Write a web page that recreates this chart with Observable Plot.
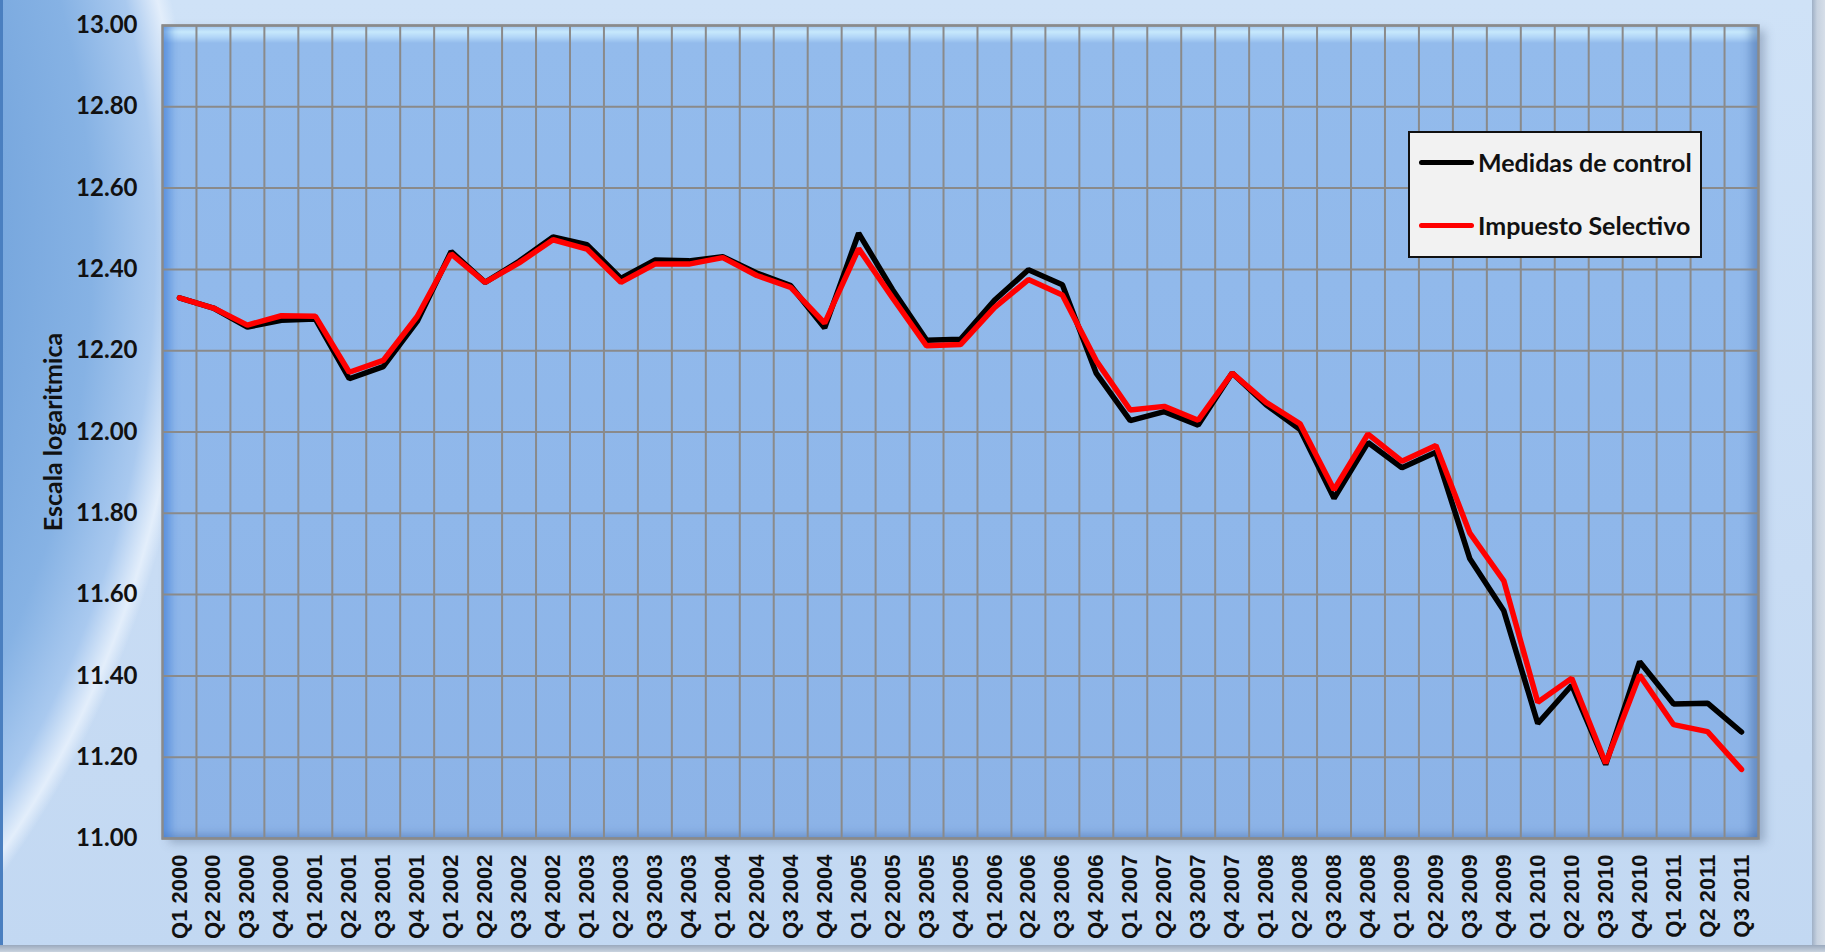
<!DOCTYPE html>
<html>
<head>
<meta charset="utf-8">
<script src="https://cdn.jsdelivr.net/npm/d3@7"></script>
<script src="https://cdn.jsdelivr.net/npm/@observablehq/plot@0.6"></script>
<style>
  html, body { margin: 0; padding: 0; }
  body { width: 1825px; height: 952px; position: relative; overflow: hidden; background: #cbdef5; }
  #bg {
    position: absolute; left: 0; top: 0; width: 1825px; height: 952px;
    background:
      linear-gradient(to right, #4a7fc0 0px, #4a7fc0 3px, rgba(0,0,0,0) 3px),
      radial-gradient(900px 1000px at -700px 250px, #5c92d2 0%, #6d9fd9 70%, #86b2e4 88%, #a9c9ef 95%, #e3eefb 98.5%, rgba(220,235,250,0) 100%),
      linear-gradient(to bottom, #cfe2f7 0%, #c8dcf4 60%, #c2d8f2 100%);
  }
  #rightstrip { position: absolute; left: 1812px; top: 0; width: 13px; height: 952px;
    background: linear-gradient(to right, #9fb0c6, #c7d2e0 40%, #d6dee8); }
  #bottomstrip { position: absolute; left: 0; top: 945px; width: 1825px; height: 7px;
    background: linear-gradient(to bottom, #9aa9bd, #c9d3df); }
  #plotbg {
    position: absolute; left: 162px; top: 25px; width: 1596px; height: 813px;
    background: linear-gradient(to bottom, #a6cbf4 0px, #c6e8fc 7px, #b2d6f8 12px, #93bbec 18px, #8fb7ea 60%, #8cb3e7 100%);
    box-shadow: inset 14px 0 10px -6px rgba(55,120,215,0.6), inset -12px 0 8px -4px rgba(60,100,160,0.45),
                inset 0 -8px 8px -4px rgba(60,100,160,0.35), 7px 5px 9px rgba(70,90,120,0.35);
  }
  #chart { position: absolute; left: 0; top: 0; }
  #legend {
    position: absolute; left: 1408px; top: 131px; width: 290px; height: 123px;
    background: #f2f2f2; border: 2px solid #111;
    font-family: Lato, "Open Sans", sans-serif; font-weight: bold; font-size: 25px; color: #111;
  }
  .item { position: absolute; left: 9px; display: flex; align-items: center; white-space: nowrap; }
  .sw { width: 55px; height: 5px; border-radius: 3px; margin-right: 4px; }
</style>
</head>
<body>
<div id="bg"></div>
<div id="rightstrip"></div>
<div id="bottomstrip"></div>
<div id="plotbg"></div>
<div id="chart"></div>
<div id="legend"></div>
<script>
const quarters = [
  "Q1 2000","Q2 2000","Q3 2000","Q4 2000",
  "Q1 2001","Q2 2001","Q3 2001","Q4 2001",
  "Q1 2002","Q2 2002","Q3 2002","Q4 2002",
  "Q1 2003","Q2 2003","Q3 2003","Q4 2003",
  "Q1 2004","Q2 2004","Q3 2004","Q4 2004",
  "Q1 2005","Q2 2005","Q3 2005","Q4 2005",
  "Q1 2006","Q2 2006","Q3 2006","Q4 2006",
  "Q1 2007","Q2 2007","Q3 2007","Q4 2007",
  "Q1 2008","Q2 2008","Q3 2008","Q4 2008",
  "Q1 2009","Q2 2009","Q3 2009","Q4 2009",
  "Q1 2010","Q2 2010","Q3 2010","Q4 2010",
  "Q1 2011","Q2 2011","Q3 2011"
];
const medidasDeControl = [
  12.330, 12.305, 12.258, 12.275, 12.278, 12.131, 12.161, 12.272, 12.444, 12.368,
  12.420, 12.480, 12.461, 12.378, 12.423, 12.421, 12.431, 12.391, 12.360, 12.256,
  12.489, 12.350, 12.226, 12.228, 12.324, 12.399, 12.362, 12.144, 12.028, 12.050,
  12.017, 12.145, 12.067, 12.006, 11.837, 11.974, 11.912, 11.950, 11.688, 11.560,
  11.283, 11.377, 11.182, 11.435, 11.331, 11.333, 11.262
];
const impuestoSelectivo = [
  12.330, 12.305, 12.263, 12.286, 12.285, 12.147, 12.176, 12.284, 12.438, 12.368,
  12.416, 12.473, 12.450, 12.368, 12.413, 12.413, 12.429, 12.385, 12.356, 12.268,
  12.451, 12.330, 12.212, 12.215, 12.306, 12.375, 12.337, 12.175, 12.054, 12.063,
  12.029, 12.145, 12.073, 12.020, 11.858, 11.995, 11.928, 11.967, 11.751, 11.634,
  11.335, 11.394, 11.185, 11.402, 11.280, 11.263, 11.170
];
const yTicks = [11.0, 11.2, 11.4, 11.6, 11.8, 12.0, 12.2, 12.4, 12.6, 12.8, 13.0];
const seriesNames = ["Medidas de control", "Impuesto Selectivo"];
const seriesColors = ["#000000", "#ff0000"];
const yTitle = "Escala logaritmica";

const data = quarters.map((q, i) => ({i, q, m: medidasDeControl[i], s: impuestoSelectivo[i]}));
const idx = d3.range(quarters.length);

const chart = Plot.plot({
  width: 1825,
  height: 952,
  marginLeft: 162,
  marginRight: 67,
  marginTop: 25,
  marginBottom: 114,
  style: {background: "transparent", color: "#111", overflow: "visible"},
  x: {domain: [-0.5, quarters.length - 0.5]},
  y: {domain: [11, 13]},
  marks: [
    Plot.gridY(yTicks, {stroke: "#8a8a8a", strokeOpacity: 1, strokeWidth: 2}),
    Plot.ruleX(idx.slice(1), {x: d => d - 0.5, stroke: "#8a8a8a", strokeWidth: 2}),
    Plot.frame({stroke: "#8a8a8a", strokeWidth: 2.5}),
    Plot.axisY(yTicks, {tickSize: 0, tickPadding: 25, tickFormat: d => d.toFixed(2),
      fontSize: 24, fontWeight: "bold", fontFamily: "Lato", label: null}),
    Plot.axisX(idx, {tickSize: 0, tickPadding: 16, tickRotate: -90, tickFormat: i => quarters[i],
      fontSize: 22, fontWeight: "bold", fontFamily: "Liberation Sans", label: null}),
    Plot.text([yTitle], {frameAnchor: "left", textAnchor: "middle", rotate: -90, dx: -109, fontSize: 25,
      fontWeight: "bold", fontFamily: "Lato", fill: "#111"}),
    Plot.line(data, {x: "i", y: "m", stroke: seriesColors[0], strokeWidth: 5.5, strokeLinejoin: "miter", strokeLinecap: "round"}),
    Plot.line(data, {x: "i", y: "s", stroke: seriesColors[1], strokeWidth: 5.5, strokeLinejoin: "miter", strokeLinecap: "round"})
  ]
});
document.getElementById("chart").appendChild(chart);

const legend = document.getElementById("legend");
seriesNames.forEach((name, k) => {
  const item = document.createElement("div");
  item.className = "item";
  item.style.top = (k === 0 ? 14 : 77) + "px";
  const sw = document.createElement("div");
  sw.className = "sw";
  sw.style.background = seriesColors[k];
  const label = document.createElement("span");
  label.textContent = name;
  item.appendChild(sw);
  item.appendChild(label);
  legend.appendChild(item);
});
</script>
</body>
</html>
